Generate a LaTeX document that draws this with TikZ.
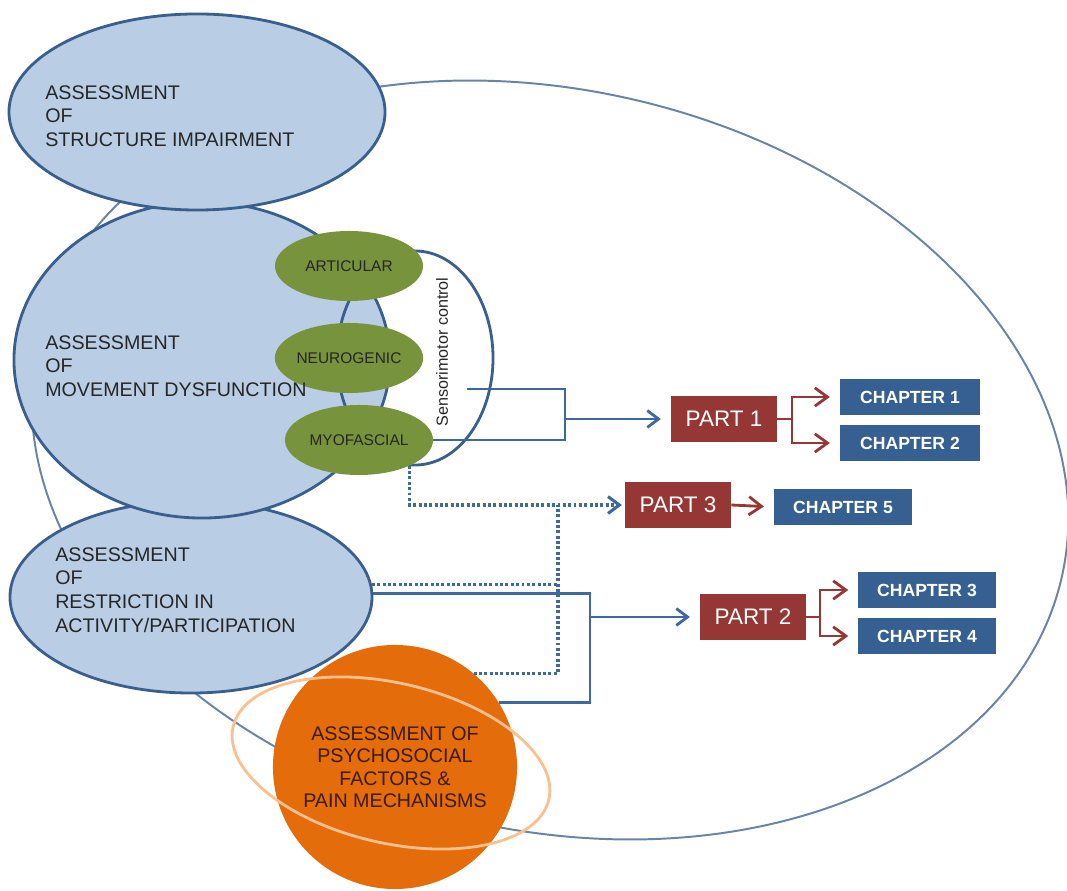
\documentclass[tikz,border=0pt]{standalone}
\usepackage{fontspec}
\setmainfont{Liberation Sans}
\usetikzlibrary{shapes.geometric,arrows.meta}
\definecolor{lblue}{HTML}{B9CDE5}
\definecolor{dblue}{HTML}{3A5F8C}
\definecolor{cblue}{HTML}{3E68A0}
\definecolor{bgline}{HTML}{6A84A8}
\definecolor{grn}{HTML}{77933C}
\definecolor{prtred}{HTML}{953735}
\definecolor{chpblue}{HTML}{376092}
\definecolor{orng}{HTML}{E46C0A}
\definecolor{peach}{HTML}{FAC090}
\definecolor{txt}{HTML}{262626}
\definecolor{psytxt}{HTML}{3A1C08}

\begin{document}
\begin{tikzpicture}[x=0.025cm,y=-0.025cm,
	blob/.style={draw=dblue,line width=2pt,fill=lblue,ellipse,inner sep=0pt},
	grnell/.style={ellipse,fill=grn,inner sep=0pt,minimum width=3.7cm,
		minimum height=1.75cm,text=txt,font=\fontsize{11}{13}\selectfont},
	lbl/.style={anchor=west,align=left,inner sep=0pt,text=txt,
		font=\fontsize{14}{16.8}\selectfont},
	prt/.style={fill=prtred,text=white,minimum width=2.65cm,minimum height=1.13cm,
		inner sep=0pt,font=\fontsize{16}{18}\selectfont},
	chp/.style={fill=chpblue,text=white,minimum height=0.88cm,inner sep=0pt,
		font=\fontsize{12.5}{14}\selectfont\bfseries},
	ln/.style={draw=cblue,line width=2pt},
	dln/.style={draw=cblue,line width=2.2pt,dash pattern=on 2.1pt off 1.7pt},
	barb/.style={-{Straight Barb[length=8pt,width=12pt]},shorten >=7pt},
	rln/.style={draw=prtred,line width=2pt,-{Straight Barb[length=9pt,width=13pt]},
		shorten >=7pt}]
	\useasboundingbox (0,0) rectangle (1067,891);

	% outer frame
	\draw[bgline,line width=1.4pt,rotate around={-13:(550,460)}] (550,460)
		ellipse [x radius=525,y radius=370];

	% assessment blobs
	\node[blob,minimum width=9.05cm,minimum height=4.8cm] (restr) at (191,597) {};
	\node[blob,minimum width=9.4cm,minimum height=7.9cm] (move) at (202,360) {};
	\node[blob,minimum width=9.4cm,minimum height=4.9cm] (struct) at (197,112) {};

	% sensorimotor loop
	\node[draw=dblue,line width=2pt,ellipse,minimum width=3.9cm,minimum height=5.35cm,
		inner sep=0pt] (senso) at (415,358) {};
	\node[rotate=90,inner sep=0pt,text=txt,font=\fontsize{11.5}{13}\selectfont]
		(sensotxt) at (442,352) {Sensorimotor control};

	\node[grnell] (artic) at (349,266) {ARTICULAR};
	\node[grnell] (neuro) at (349,358) {NEUROGENIC};
	\node[grnell] (myo) at (359,440) {MYOFASCIAL};

	\node[lbl] (structtxt) at (45,116) {ASSESSMENT\\OF\\STRUCTURE IMPAIRMENT};
	\node[lbl] (movetxt) at (45,366) {ASSESSMENT\\OF\\MOVEMENT DYSFUNCTION};
	\node[lbl] (restrtxt) at (55,590) {ASSESSMENT\\OF\\RESTRICTION IN\\ACTIVITY/PARTICIPATION};

	% psychosocial
	\node[circle,fill=orng,minimum size=6.1cm,inner sep=0pt,align=center,text=psytxt,
		font=\fontsize{14}{16}\selectfont] (psych) at (395,767)
		{ASSESSMENT OF\\PSYCHOSOCIAL\\FACTORS \&\\PAIN MECHANISMS};
	\draw[peach,line width=2pt,rotate around={-13:(391,763)}] (391,763)
		ellipse [x radius=162,y radius=80];

	% parts and chapters
	\node[prt] (part1) at (724,419) {PART 1};
	\node[prt] (part3) at (678,505) {PART 3};
	\node[prt] (part2) at (753,617) {PART 2};
	\node[chp,minimum width=3.5cm] (ch1) at (910,397) {CHAPTER 1};
	\node[chp,minimum width=3.5cm] (ch2) at (910,443) {CHAPTER 2};
	\node[chp,minimum width=3.45cm] (ch5) at (843,507) {CHAPTER 5};
	\node[chp,minimum width=3.43cm] (ch3) at (927,590) {CHAPTER 3};
	\node[chp,minimum width=3.43cm] (ch4) at (927,636) {CHAPTER 4};

	\coordinate (smout) at (467,389);
	\coordinate (j1) at (565,419);
	\coordinate (j2) at (590,617);
	\coordinate (j3) at (558,505);
	\coordinate (b1) at (792,419);
	\coordinate (b2) at (820,617);

	% blue connectors
	\draw[ln] (smout) -| (j1);
	\draw[ln] (myo.east) -| (j1);
	\draw[ln,barb] (j1) -- (part1.west);
	\draw[ln] (restr.1) -| (j2);
	\draw[ln] (psych.32) -| (j2);
	\draw[ln,barb] (j2) -- (part2.west);
	\draw[dln,barb,shorten >=2pt] (myo.-27) |- (part3.west);
	\draw[dln] (restr.4) -- (restr.4 -| j3);
	\draw[dln] (psych.50) -| (j3);

	% red branches
	\draw[rln] (part1.east) -- (b1) |- (ch1.west);
	\draw[rln] (b1) |- (ch2.west);
	\draw[rln] (part3.east) -- (ch5.west);
	\draw[rln] (part2.east) -- (b2) |- (ch3.west);
	\draw[rln] (b2) |- (ch4.west);
\end{tikzpicture}
\end{document}
